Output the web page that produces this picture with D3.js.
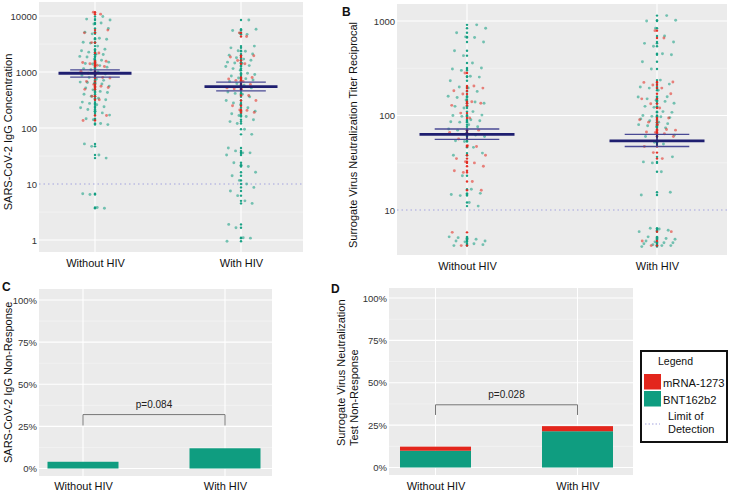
<!DOCTYPE html>
<html><head><meta charset="utf-8">
<script src="https://cdn.jsdelivr.net/npm/d3@7"></script>
<style>
body{margin:0;background:#fff}
text{font-family:"Liberation Sans",Arial,Helvetica,sans-serif}
</style>
</head><body>
<svg id="chart" width="729" height="493"></svg>
<script>
// ---------------- DATA ----------------
const groups = ["Without HIV", "With HIV"];
const vaccines = ["mRNA-1273", "BNT162b2"];

// Panel A: SARS-CoV-2 IgG concentration
const iggBNT_without = [9800, 8500, 8800, 7200, 7500, 6000, 5150, 4800, 4000, 3850, 3400, 3280, 2900, 2550, 2400, 2260, 2080, 2050, 1900, 1850, 1700, 1620, 1500, 1420, 1390, 1300, 1220, 1150, 1100, 1000, 920, 870, 800, 750, 710, 660, 650, 630, 610, 560, 520, 480, 450, 430, 400, 370, 340, 320, 290, 275, 260, 240, 230, 214, 200, 186, 170, 146, 140, 120, 115, 52, 47, 33, 29, 6.7, 6.5, 3.8, 3.7];
const iggMRNA_without = [11700, 10800, 5600, 5000, 3350, 2180, 1560, 1480, 1400, 1320, 1250, 1030, 950, 900, 800, 780, 680, 600, 555, 530, 490, 370, 320, 167, 136];
const iggBNT_with = [8500, 5800, 5500, 4950, 4700, 2900, 2700, 2400, 2350, 2100, 2000, 1800, 1700, 1620, 1500, 1450, 1420, 1300, 1250, 1150, 1075, 950, 900, 850, 780, 760, 720, 680, 620, 580, 520, 440, 415, 400, 360, 310, 280, 260, 230, 200, 180, 167, 160, 140, 130, 120, 95, 77, 44, 39, 36, 36, 33, 24, 21.6, 20.5, 16.2, 14, 11.6, 10, 8.7, 7.5, 6.2, 5, 4.5, 1.9, 1.65, 1.1, 1.08, 0.95];
const iggMRNA_with = [5000, 4300, 1950, 1850, 1600, 1400, 800, 750, 710, 680, 600, 520, 500, 490, 380, 310, 250, 210, 206, 190];
const iggGMT = [950, 550];
const iggCILow = [810, 460];
const iggCIHigh = [1090, 660];
const iggTicks = [1, 10, 100, 1000, 10000];

// Panel B: surrogate virus neutralization titer reciprocal
const svnBNT_without = [910, 837, 750, 680, 670, 600, 485, 430, 360, 318, 310, 300, 260, 255, 233, 200, 196, 180, 160, 155, 146, 139, 135, 125, 120, 110, 101, 100, 98, 90, 88, 86, 85, 80, 76, 72, 70, 65, 62, 60, 54, 53, 46, 40, 38, 23, 16.6, 15, 14.6, 14.2, 12, 11, 5.2, 5.1, 5, 4.9, 4.7, 4.7, 4.6, 4.4, 4.3, 4.2];
const svnMRNA_without = [282, 205, 195, 183, 169, 140, 135, 128, 106, 94, 70, 66, 56.5, 48, 47, 38, 35, 32.5, 31.5, 29, 26, 25, 20, 16.2, 5.8, 4.2];
const svnBNT_with = [1140, 1020, 1000, 837, 695, 600, 580, 540, 450, 440, 370, 310, 237, 215, 200, 195, 185, 158, 157, 150, 145, 141, 135, 125, 122, 110, 108, 100, 98, 97, 95, 92, 88, 85, 82, 80, 78, 76, 74, 62, 60, 52, 50, 36.5, 32.3, 31.5, 25.4, 15.4, 14.4, 6.4, 6.3, 6.1, 5.9, 5.2, 5.1, 5.0, 4.9, 4.7, 4.6, 4.5, 4.5, 4.4, 4.3, 4.2, 4.2, 4.1];
const svnMRNA_with = [790, 660, 226, 224, 210, 195, 170, 150, 133, 120, 94, 90, 85, 80, 71, 70, 67, 66, 64, 60, 47, 40.5, 35, 5.9, 4.7, 4.2];
const svnGMT = [63, 54];
const svnCILow = [56, 47];
const svnCIHigh = [72, 63];
const svnTicks = [10, 100, 1000];

const limitOfDetection = 10;

// Panels C & D: non-response (%)
const iggNonResp_BNT = [4.0, 12.0];
const iggNonResp_mRNA = [0, 0];
const svnNonResp_BNT = [9.9, 21.4];
const svnNonResp_mRNA = [2.4, 3.0];
const pctTicks = [0, 25, 50, 75, 100];
const pctLabels = ["0%", "25%", "50%", "75%", "100%"];
const pValues = ["p=0.084", "p=0.028"];
const bracketTop = [32, 37];
const bracketEnd = [25.5, 31];

// ---------------- STYLE ----------------
const TEAL = "#0f9d80", RED = "#e3261c";
const PANEL_BG = "#ebebeb";
const NAVY = "#1f1f70", NAVY_THIN = "#4a4a95";
const LOD_COLOR = "#a3a3de";

const svg = d3.select("#chart");

function logPanel(cfg) {
  const g = svg.append("g");
  const x = d3.scalePoint().domain(groups).range(cfg.centers);
  const step = cfg.centers[1] - cfg.centers[0];
  const y = d3.scaleLog().domain(cfg.domain).range(cfg.range);

  g.append("rect").attr("x", cfg.x0).attr("y", cfg.y0)
    .attr("width", cfg.x1 - cfg.x0).attr("height", cfg.y1 - cfg.y0).attr("fill", PANEL_BG);

  // minor grid
  const minor = cfg.ticks.slice(0, -1).map(t => t * Math.sqrt(10));
  g.selectAll(".mn").data(minor).enter().append("line")
    .attr("x1", cfg.x0).attr("x2", cfg.x1)
    .attr("y1", d => y(d)).attr("y2", d => y(d))
    .attr("stroke", "#f6f6f6").attr("stroke-width", 0.6);
  // major grid
  g.selectAll(".mj").data(cfg.ticks.filter(t => t !== limitOfDetection)).enter().append("line")
    .attr("x1", cfg.x0).attr("x2", cfg.x1)
    .attr("y1", d => y(d)).attr("y2", d => y(d))
    .attr("stroke", "#fff").attr("stroke-width", 1.1);
  g.selectAll(".vg").data(groups).enter().append("line")
    .attr("x1", d => x(d)).attr("x2", d => x(d))
    .attr("y1", cfg.y0).attr("y2", cfg.y1)
    .attr("stroke", "#fff").attr("stroke-width", 1.1);

  // limit of detection
  g.append("line").attr("x1", cfg.x0).attr("x2", cfg.x1)
    .attr("y1", y(limitOfDetection)).attr("y2", y(limitOfDetection))
    .attr("stroke", LOD_COLOR).attr("stroke-width", 1).attr("stroke-dasharray", "1.5,3");

  // points
  const pts = [];
  cfg.series.forEach((s, gi) => {
    s.bnt.forEach((v, i) => pts.push({grp: groups[gi], v, c: TEAL, k: i * 2 + 1}));
    s.mrna.forEach((v, i) => pts.push({grp: groups[gi], v, c: RED, k: i * 2 + 0.5}));
  });
  const jw = step * cfg.jitter;
  const jit = k => (((k * 0.6180339887 + 0.137) % 1) - 0.5) * 2 * jw;
  g.selectAll(".jp").data(pts).enter().append("circle")
    .attr("cx", d => x(d.grp) + jit(d.k)).attr("cy", d => y(d.v))
    .attr("r", 1.45).attr("fill", d => d.c).attr("fill-opacity", 0.55);
  g.selectAll(".cp").data(pts).enter().append("circle")
    .attr("cx", d => x(d.grp)).attr("cy", d => y(d.v))
    .attr("r", 1.2).attr("fill", d => d.c).attr("fill-opacity", 0.95);

  // mean and CI
  groups.forEach((gname, i) => {
    const cx = x(gname);
    g.append("line").attr("x1", cx).attr("x2", cx)
      .attr("y1", y(cfg.ciLow[i])).attr("y2", y(cfg.ciHigh[i]))
      .attr("stroke", NAVY).attr("stroke-width", 1.6);
    [cfg.ciLow[i], cfg.ciHigh[i]].forEach(v => {
      g.append("line").attr("x1", cx - step * 0.17).attr("x2", cx + step * 0.17)
        .attr("y1", y(v)).attr("y2", y(v))
        .attr("stroke", NAVY_THIN).attr("stroke-width", 1.3);
    });
    g.append("line").attr("x1", cx - step * 0.25).attr("x2", cx + step * 0.25)
      .attr("y1", y(cfg.gmt[i])).attr("y2", y(cfg.gmt[i]))
      .attr("stroke", NAVY).attr("stroke-width", 2.8);
  });

  // axes
  const ay = g.append("g").attr("transform", `translate(${cfg.x0 - 2},0)`)
    .call(d3.axisLeft(y).tickValues(cfg.ticks).tickFormat(d3.format("d")).tickSize(0).tickPadding(0));
  ay.select(".domain").remove();
  ay.selectAll("text").attr("font-size", 9.5).attr("fill", "#333")
    .attr("font-family", "Liberation Sans, Arial, sans-serif");
  const ax = g.append("g").attr("transform", `translate(0,${cfg.labelY})`)
    .call(d3.axisBottom(x).tickSize(0).tickPadding(0));
  ax.select(".domain").remove();
  ax.selectAll("text").attr("font-size", 11).attr("fill", "#111").attr("dy", 0)
    .attr("font-family", "Liberation Sans, Arial, sans-serif");

  g.append("text").attr("transform", `translate(${cfg.titleX},${cfg.titleY}) rotate(-90)`)
    .attr("text-anchor", "middle").attr("font-size", 11).attr("fill", "#111").text(cfg.title);
}

logPanel({
  x0: 39, x1: 303, y0: 2, y1: 252, centers: [95, 241],
  domain: [1, 10000], range: [240, 16], ticks: iggTicks, jitter: 0.105,
  series: [{bnt: iggBNT_without, mrna: iggMRNA_without}, {bnt: iggBNT_with, mrna: iggMRNA_with}],
  gmt: iggGMT, ciLow: iggCILow, ciHigh: iggCIHigh,
  labelY: 267, title: "SARS-CoV-2 IgG Concentration", titleX: 12, titleY: 132
});
logPanel({
  x0: 397, x1: 727, y0: 4, y1: 255, centers: [467, 657],
  domain: [10, 1000], range: [210, 21], ticks: svnTicks, jitter: 0.1,
  series: [{bnt: svnBNT_without, mrna: svnMRNA_without}, {bnt: svnBNT_with, mrna: svnMRNA_with}],
  gmt: svnGMT, ciLow: svnCILow, ciHigh: svnCIHigh,
  labelY: 270, title: "Surrogate Virus Neutralization Titer Reciprocal", titleX: 357, titleY: 135
});

function barPanel(cfg) {
  const g = svg.append("g");
  const x = d3.scalePoint().domain(groups).range(cfg.centers);
  const step = cfg.centers[1] - cfg.centers[0];
  const y = d3.scaleLinear().domain([0, 100]).range(cfg.range);
  g.append("rect").attr("x", cfg.x0).attr("y", cfg.y0)
    .attr("width", cfg.x1 - cfg.x0).attr("height", cfg.y1 - cfg.y0).attr("fill", PANEL_BG);
  const minor = pctTicks.slice(0, -1).map(t => t + 12.5);
  g.selectAll(".mn").data(minor).enter().append("line")
    .attr("x1", cfg.x0).attr("x2", cfg.x1).attr("y1", d => y(d)).attr("y2", d => y(d))
    .attr("stroke", "#f6f6f6").attr("stroke-width", 0.6);
  g.selectAll(".mj").data(pctTicks).enter().append("line")
    .attr("x1", cfg.x0).attr("x2", cfg.x1).attr("y1", d => y(d)).attr("y2", d => y(d))
    .attr("stroke", "#fff").attr("stroke-width", 1.1);
  g.selectAll(".vg").data(groups).enter().append("line")
    .attr("x1", d => x(d)).attr("x2", d => x(d)).attr("y1", cfg.y0).attr("y2", cfg.y1)
    .attr("stroke", "#fff").attr("stroke-width", 1.1);

  const rows = groups.map((gname, i) => ({grp: gname, "BNT162b2": cfg.bnt[i], "mRNA-1273": cfg.mrna[i]}));
  const stacked = d3.stack().keys(["BNT162b2", "mRNA-1273"])(rows);
  const color = d3.scaleOrdinal().domain(["BNT162b2", "mRNA-1273"]).range([TEAL, RED]);
  const bw = step * 0.5;
  stacked.forEach(layer => {
    g.selectAll(null).data(layer).enter().append("rect")
      .attr("x", d => x(d.data.grp) - bw / 2).attr("width", bw)
      .attr("y", d => y(d[1])).attr("height", d => Math.max(0, y(d[0]) - y(d[1])))
      .attr("fill", color(layer.key));
  });

  // bracket
  const bx1 = x(groups[0]), bx2 = x(groups[1]);
  g.append("path")
    .attr("d", `M${bx1},${y(cfg.bEnd)}V${y(cfg.bTop)}H${bx2}V${y(cfg.bEnd)}`)
    .attr("fill", "none").attr("stroke", "#777").attr("stroke-width", 1);
  g.append("text").attr("x", (bx1 + bx2) / 2).attr("y", y(cfg.bTop) - 7)
    .attr("text-anchor", "middle").attr("font-size", 10).attr("fill", "#222").text(cfg.p);

  const ay = g.append("g").attr("transform", `translate(${cfg.x0 - 2},0)`)
    .call(d3.axisLeft(y).tickValues(pctTicks).tickFormat((d, i) => pctLabels[i]).tickSize(0).tickPadding(0));
  ay.select(".domain").remove();
  ay.selectAll("text").attr("font-size", 9.5).attr("fill", "#333")
    .attr("font-family", "Liberation Sans, Arial, sans-serif");
  const ax = g.append("g").attr("transform", `translate(0,${cfg.labelY})`)
    .call(d3.axisBottom(x).tickSize(0).tickPadding(0));
  ax.select(".domain").remove();
  ax.selectAll("text").attr("font-size", 11).attr("fill", "#111").attr("dy", 0)
    .attr("font-family", "Liberation Sans, Arial, sans-serif");

  cfg.title.forEach((t, i) => {
    g.append("text").attr("transform", `translate(${cfg.titleX[i]},${cfg.titleStart}) rotate(-90)`)
      .attr("text-anchor", "start").attr("font-size", 11).attr("fill", "#111").text(t);
  });
}

barPanel({
  x0: 39, x1: 272, y0: 289, y1: 476, centers: [83, 225], range: [468.5, 300],
  bnt: iggNonResp_BNT, mrna: iggNonResp_mRNA, p: pValues[0], bTop: bracketTop[0], bEnd: bracketEnd[0],
  labelY: 490, title: ["SARS-CoV-2 IgG Non-Response"], titleX: [12], titleStart: 463
});
barPanel({
  x0: 389, x1: 633, y0: 288, y1: 475, centers: [435.5, 577.5], range: [467.5, 298],
  bnt: svnNonResp_BNT, mrna: svnNonResp_mRNA, p: pValues[1], bTop: bracketTop[1], bEnd: bracketEnd[1],
  labelY: 490, title: ["Surrogate Virus Neutralization", "Test Non-Response"], titleX: [345, 358], titleStart: 446
});

// panel letters
[["B", 342, 16], ["C", 2, 291], ["D", 331, 293]].forEach(([t, xx, yy]) => {
  svg.append("text").attr("x", xx).attr("y", yy).attr("font-size", 12)
    .attr("font-weight", "bold").attr("fill", "#111").text(t);
});

// legend
const lg = svg.append("g");
lg.append("rect").attr("x", 641).attr("y", 351).attr("width", 86).attr("height", 91)
  .attr("fill", "#fff").attr("stroke", "#111").attr("stroke-width", 2);
lg.append("text").attr("x", 658).attr("y", 365).attr("font-size", 10.5).attr("fill", "#111").text("Legend");
const legColor = d3.scaleOrdinal().domain(vaccines).range([RED, TEAL]);
vaccines.forEach((v, i) => {
  lg.append("rect").attr("x", 644).attr("y", 374 + i * 17).attr("width", 17).attr("height", 15.5).attr("fill", legColor(v));
  lg.append("text").attr("x", 663).attr("y", 387 + i * 16.5).attr("font-size", 11.2).attr("fill", "#111").text(v);
});
lg.append("line").attr("x1", 645).attr("x2", 660).attr("y1", 424).attr("y2", 424)
  .attr("stroke", LOD_COLOR).attr("stroke-width", 1).attr("stroke-dasharray", "1.5,2");
lg.append("text").attr("x", 668).attr("y", 420).attr("font-size", 11).attr("fill", "#111").text("Limit of");
lg.append("text").attr("x", 668).attr("y", 433).attr("font-size", 11).attr("fill", "#111").text("Detection");
</script>
</body></html>
